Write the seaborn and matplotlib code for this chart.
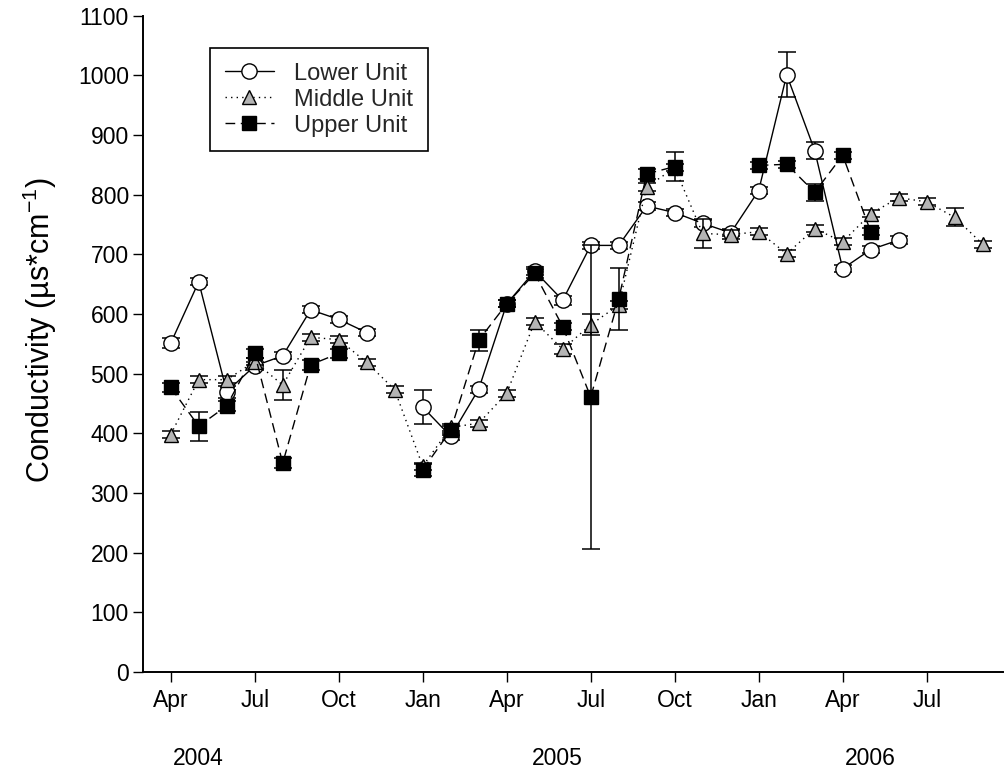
import numpy as np
import pandas as pd
import matplotlib
matplotlib.use("Agg")
import matplotlib.pyplot as plt
from matplotlib.lines import Line2D
import seaborn as sns

# month index: 0 = Apr 2004, one step per month
months = list(range(30))
tick_pos = [0, 3, 6, 9, 12, 15, 18, 21, 24, 27]
tick_labels = ["Apr", "Jul", "Oct", "Jan", "Apr", "Jul", "Oct", "Jan", "Apr", "Jul"]
year_labels = ["2004", "2005", "2006"]
year_pos = [1.0, 13.8, 25.0]

nan = np.nan
lower = [551, 654, 470, 513, 530, 607, 591, 569, nan, 444, 395, 474, 617, 672, 623,
         715, 715, 781, 770, 752, 736, 807, 1001, 874, 676, 708, 724, nan, nan, nan]
lower_err = [8, 6, 10, 6, 6, 6, 6, 6, nan, 28, 6, 6, 6, 6, 8,
             6, 6, 6, 6, 6, 6, 6, 38, 14, 6, 6, 6, nan, nan, nan]
middle = [398, 490, 490, 520, 481, 561, 557, 519, 473, 345, 410, 417, 467, 587, 541,
          582, 615, 813, 845, 735, 733, 738, 701, 743, 721, 768, 795, 788, 762, 717]
middle_err = [6, 6, 6, 6, 25, 6, 6, 6, 6, 6, 6, 6, 6, 6, 8,
              18, 6, 6, 6, 24, 8, 6, 6, 6, 6, 6, 6, 6, 15, 6]
upper = [477, 412, 446, 534, 350, 515, 534, nan, nan, 339, 405, 556, 617, 668, 579,
         461, 625, 835, 847, nan, nan, 849, 851, 804, 866, 738, nan, nan, nan, nan]
upper_err = [8, 24, 8, 8, 8, 8, 8, nan, nan, 10, 8, 18, 6, 8, 6,
             255, 52, 8, 24, nan, nan, 6, 6, 14, 6, 6, nan, nan, nan, nan]

series_names = ["Lower Unit", "Middle Unit", "Upper Unit"]

sns.set_theme(style="ticks")
plt.rcParams['font.family'] = ['Liberation Sans', 'DejaVu Sans']
plt.rcParams['mathtext.fontset'] = 'custom'
plt.rcParams['mathtext.rm'] = 'Liberation Sans'
plt.rcParams['mathtext.it'] = 'Liberation Sans'
plt.rcParams['mathtext.default'] = 'regular'

W, H = 1005, 779
fig = plt.figure(figsize=(W / 100, H / 100), dpi=100)
x0, x1, y0, y1 = 142.7, 1003, 15.7, 672
ax = fig.add_axes([x0 / W, 1 - y1 / H, (x1 - x0) / W, (y1 - y0) / H])

styles = [
    dict(marker="o", ms=11, mfc="white", mec="black", ls="-"),
    dict(marker="^", ms=10.5, mfc="#b4b4b4", mec="black", ls=(0, (1, 3))),
    dict(marker="s", ms=10, mfc="black", mec="black", ls=(0, (7, 4))),
]
data = [(lower, lower_err), (middle, middle_err), (upper, upper_err)]

for i, ((vals, errs), st) in enumerate(zip(data, styles)):
    v = np.array(vals, dtype=float)
    seg = np.cumsum(np.isnan(v))
    df = pd.DataFrame({"month": months, "value": v, "seg": seg, "err": errs}).dropna()
    ax.errorbar(df["month"], df["value"], yerr=df["err"], fmt="none", ecolor="black",
                elinewidth=1.1, capsize=6.5, capthick=1.1, zorder=2 + i)
    sns.lineplot(data=df, x="month", y="value", units="seg", estimator=None, ax=ax,
                 color="black", lw=1.0, marker=st["marker"], ms=st["ms"],
                 markerfacecolor=st["mfc"], markeredgecolor=st["mec"], mew=1.0,
                 linestyle=st["ls"], zorder=2.5 + i, legend=False)

ax.set_xlim((x0 - 170.7) / 28.0, (x1 - 170.7) / 28.0)
ax.set_ylim(0, 1100)
ax.set_yticks(range(0, 1101, 100))
ax.set_xticks(tick_pos)
ax.set_xticklabels(tick_labels)
ax.tick_params(axis="both", direction="out", length=7, width=1.0, color="black",
               labelsize=16.5, labelcolor="black")
ax.tick_params(axis="y", pad=3)
ax.tick_params(axis="x", pad=5)
for s in ["top", "right"]:
    ax.spines[s].set_visible(False)
for s in ["left", "bottom"]:
    ax.spines[s].set_linewidth(1.4)
    ax.spines[s].set_color("black")
ax.set_xlabel("")
ax.set_ylabel("Conductivity (µs*cm$^{-1}$)", fontsize=22, color="black")
ax.yaxis.set_label_coords((59 - x0) / (x1 - x0), (y1 - 330) / (y1 - y0))

for lab, xp in zip(year_labels, year_pos):
    ax.text(xp, -0.132, lab, transform=ax.get_xaxis_transform(), ha="center",
            va="center", fontsize=16.5, color="black")

handles = [Line2D([], [], color="black", lw=1.0, linestyle=st["ls"], marker=st["marker"],
                  ms=st["ms"], markerfacecolor=st["mfc"], markeredgecolor=st["mec"])
           for st in styles]
leg = ax.legend(handles, series_names, loc="upper left",
                bbox_to_anchor=(210 / W, 1 - 48 / H), bbox_transform=fig.transFigure,
                fontsize=17, frameon=True, fancybox=False, shadow=False,
                handlelength=2.1, handletextpad=0.85, labelspacing=0.17,
                borderpad=0.62, borderaxespad=0)
leg.get_frame().set_edgecolor("black")
leg.get_frame().set_linewidth(1.2)
leg.get_frame().set_alpha(1)

fig.savefig("out.png", dpi=100)
